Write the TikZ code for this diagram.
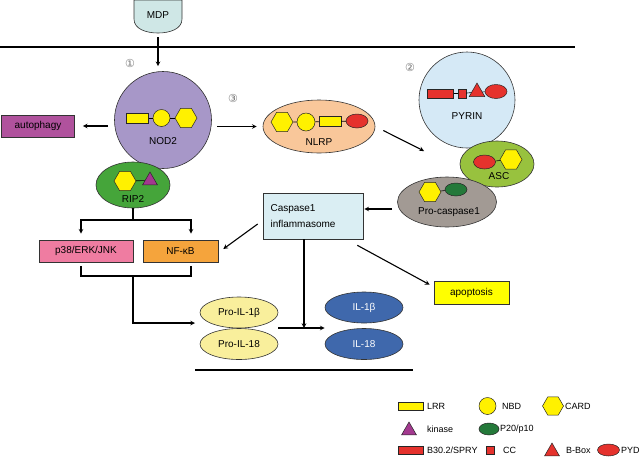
\documentclass[tikz,border=0pt]{standalone}
\usepackage{fontspec}
\setmainfont{Liberation Sans}
\newfontfamily\circfont{DejaVu Sans}
\usetikzlibrary{shapes.geometric}

\definecolor{mdpc}{HTML}{CFE7E6}
\definecolor{nodc}{HTML}{A797C8}
\definecolor{autoc}{HTML}{B0529D}
\definecolor{nlrc}{HTML}{F9C79A}
\definecolor{pyrc}{HTML}{D5E9F6}
\definecolor{ascc}{HTML}{98C23E}
\definecolor{pcasc}{HTML}{A29A94}
\definecolor{caspc}{HTML}{DAEEF3}
\definecolor{ripc}{HTML}{45A53A}
\definecolor{p38c}{HTML}{EF7CA1}
\definecolor{nfkc}{HTML}{F5A43C}
\definecolor{proilc}{HTML}{F9EF9C}
\definecolor{ilc}{HTML}{3F68AC}
\definecolor{apoc}{HTML}{FFFF00}
\definecolor{dyel}{HTML}{FFF100}
\definecolor{dred}{HTML}{E5322D}
\definecolor{kinc}{HTML}{A3398F}
\definecolor{p20c}{HTML}{24793A}

\begin{document}
\begin{tikzpicture}[x=1pt,y=-1pt,font=\fontsize{10}{12}\selectfont]
  \useasboundingbox (0,0) rectangle (640,456);

  \tikzset{
    sig arc/.style={->, >=stealth, line width=1.1pt, black},
    bar/.style={line width=1.1pt, black},
    big/.style={draw=black!80, line width=0.6pt, inner sep=0},
    dom/.style={draw=black!85, line width=0.5pt, inner sep=0},
    lrr/.style={dom, rectangle, fill=dyel, minimum width=22, minimum height=10},
    nbd/.style={dom, circle, fill=dyel, minimum size=17},
    card/.style={dom, regular polygon, regular polygon sides=6, fill=dyel, minimum size=22},
    kinase/.style={dom, regular polygon, regular polygon sides=3, fill=kinc, minimum size=17},
    ptwenty/.style={dom, ellipse, fill=p20c, minimum width=22, minimum height=13},
    spry/.style={dom, rectangle, fill=dred, minimum width=26, minimum height=9},
    ccbox/.style={dom, rectangle, fill=dred, minimum width=8, minimum height=9},
    bbox/.style={dom, regular polygon, regular polygon sides=3, fill=dred, minimum size=18},
    pyd/.style={dom, ellipse, fill=dred, minimum width=22, minimum height=14},
    link/.style={black, line width=0.6pt},
    num/.style={font=\circfont\fontsize{11}{11}\selectfont, text=black!55},
    key/.style={anchor=west, font=\fontsize{9}{10}\selectfont, inner sep=0}
  }

  % membrane and ligand
  \draw[big, fill=mdpc] (134,0) -- (134,19) .. controls (134,29) and (146,33) .. (158,33)
    .. controls (170,33) and (182,29) .. (182,19) -- (182,0) -- cycle;
  \node (mdp) at (158,15) {MDP};
  \coordinate (mdpbot) at (158,37);
  \draw[line width=2.6pt] (0,47) -- (575,47);

  \node[num] (n1) at (130,63) {①};
  \node[num] (n2) at (410,67) {②};
  \node[num] (n3) at (233,98) {③};

  % NOD2
  \node[big, circle, fill=nodc, minimum size=97] (nod2) at (163,120) {};
  \node[lrr] (nodlrr) at (137.5,118) {};
  \node[nbd] (nodnbd) at (161.5,118) {};
  \node[card] (nodcard) at (186,118) {};
  \draw[link] (nodlrr) -- (nodnbd) -- (nodcard);
  \node (nodtxt) at (163,141) {NOD2};

  % RIP2
  \node[big, ellipse, fill=ripc, minimum width=74, minimum height=46] (rip2) at (133,185) {};
  \node[card] (ripcard) at (125,181) {};
  \node[kinase] (ripkin) at (150,180.5) {};
  \draw[link] (ripcard) -- (ripkin);
  \node (riptxt) at (133,199) {RIP2};

  \node[big, fill=autoc, minimum width=73, minimum height=22] (autoph) at (38,126) {autophagy};

  % NLRP
  \node[big, ellipse, fill=nlrc, minimum width=112, minimum height=53] (nlrp) at (319,126.5) {};
  \node[card] (nlrcard) at (282,122) {};
  \node[nbd, minimum size=18] (nlrnbd) at (306,122) {};
  \node[lrr] (nlrlrr) at (330,121.5) {};
  \node[pyd] (nlrpyd) at (357,121) {};
  \draw[link] (nlrcard) -- (nlrnbd) -- (nlrlrr) -- (nlrpyd);
  \node (nlrtxt) at (319,142) {NLRP};

  % PYRIN, ASC, Pro-caspase1
  \node[big, circle, fill=pyrc, minimum size=96] (pyrin) at (467,100) {};
  \node[spry] (pyrspry) at (440.5,93.5) {};
  \node[ccbox] (pyrcc) at (462,93.5) {};
  \node[bbox] (pyrbb) at (477,92) {};
  \node[pyd] (pyrpyd) at (496,91.5) {};
  \draw[link] (pyrspry) -- (pyrcc) -- (pyrbb) -- (pyrpyd);
  \node (pyrtxt) at (467,116) {PYRIN};

  \node[big, ellipse, fill=ascc, minimum width=74, minimum height=46] (asc) at (497,164) {};
  \node[pyd] (ascpyd) at (484.5,162) {};
  \node[card] (asccard) at (511,159.5) {};
  \draw[link] (ascpyd) -- (asccard);
  \node (asctxt) at (499,176) {ASC};

  \node[big, ellipse, fill=pcasc, minimum width=99, minimum height=50] (procasp) at (447,202) {};
  \node[card] (pccard) at (430,192) {};
  \node[ptwenty] (pcp20) at (456,189.5) {};
  \draw[link] (pccard) -- (pcp20);
  \node (pctxt) at (449,212) {Pro-caspase1};

  \node[big, fill=caspc, minimum width=100, minimum height=46] (casp) at (313,216) {};
  \node[anchor=west, align=left, font=\fontsize{10}{16}\selectfont] (casptxt) at (267,216) {Caspase1\\inflammasome};

  % outputs
  \node[big, fill=p38c, minimum width=94, minimum height=22] (p38) at (86,251) {p38/ERK/JNK};
  \node[big, fill=nfkc, minimum width=75, minimum height=22] (nfkb) at (180.5,251) {NF-κB};
  \node[big, ellipse, fill=proilc, minimum width=78, minimum height=31] (proilb) at (239,312.5) {Pro-IL-1β};
  \node[big, ellipse, fill=proilc, minimum width=78, minimum height=31] (proil18) at (239,344) {Pro-IL-18};
  \node[big, ellipse, fill=ilc, text=white, minimum width=78, minimum height=31] (ilb) at (364,307.5) {IL-1β};
  \node[big, ellipse, fill=ilc, text=white, minimum width=78, minimum height=31] (il18) at (364,344) {IL-18};
  \node[big, fill=apoc, minimum width=75, minimum height=23] (apop) at (471.5,292.5) {apoptosis};

  \coordinate (cplx) at (424,151);
  \coordinate (lsplit) at (81,220);
  \coordinate (rsplit) at (191,220);
  \coordinate (ljoin) at (81,276);
  \coordinate (rjoin) at (191,276);
  \coordinate (mjoin) at (133,276);
  \coordinate (proin) at (195,323);
  \coordinate (cut) at (304,328);

  \draw[sig arc, shorten >=5pt] (mdpbot) -- (mdpbot |- nod2.north);
  \draw[sig arc, shorten <=6pt, shorten >=8pt] (nod2.west |- autoph) -- (autoph.east);
  \draw[sig arc, shorten <=5.5pt, shorten >=6pt] (nod2.east |- nlrp) -- (nlrp.west);
  \draw[sig arc] ([shift={(8,4)}]nlrp.east) -- (cplx);
  \draw[sig arc] ([shift={(-5,7)}]procasp.west) -- ([shift={(1,-7)}]casp.east);
  \draw[sig arc] ([shift={(-5,8)}]casp.west) -- ([shift={(5,-2)}]nfkb.east);
  \draw[sig arc] ([shift={(-6,6)}]casp.south east) -- ([shift={(-4,4)}]apop.north west);

  \draw[bar] (rip2.south) -- (rip2.south |- lsplit);
  \draw[sig arc, <->, shorten <=6pt, shorten >=6pt] (lsplit |- p38.north) -- (lsplit) -- (rsplit) -- (rsplit |- nfkb.north);
  \draw[bar, shorten <=4pt, shorten >=4pt] (ljoin |- p38.south) -- (ljoin) -- (rjoin) -- (rjoin |- nfkb.south);
  \draw[sig arc] (mjoin) |- (proin);

  \draw[sig arc] (cut |- casp.south) -- (cut);
  \draw[sig arc] (proilb.east |- cut) -- (ilb.west |- cut);
  \draw[line width=2.2pt] (195,370) -- (413,370);

  % legend
  \node[lrr, minimum width=25, minimum height=8] (klrr) at (410.5,406) {};
  \node[key] (klrrt) at (427,406) {LRR};
  \node[nbd] (knbd) at (487.5,406) {};
  \node[key] (knbdt) at (502,406) {NBD};
  \node[card, minimum size=21] (kcard) at (553,406) {};
  \node[key] (kcardt) at (565,406) {CARD};
  \node[kinase] (kkin) at (409,430.5) {};
  \node[key] (kkint) at (427,429) {kinase};
  \node[ptwenty, minimum width=20, minimum height=12] (kp20) at (489,429) {};
  \node[key] (kp20t) at (500,429) {P20/p10};
  \node[spry, minimum width=25, minimum height=8] (kspry) at (410.5,450) {};
  \node[key] (kspryt) at (427,450) {B30.2/SPRY};
  \node[ccbox, minimum height=8] (kcc) at (490,450) {};
  \node[key] (kcct) at (503,450) {CC};
  \node[bbox, minimum size=17] (kbb) at (552,451.5) {};
  \node[key] (kbbt) at (566,450) {B-Box};
  \node[pyd, minimum height=12] (kpyd) at (608.5,450) {};
  \node[key] (kpydt) at (621,450) {PYD};
\end{tikzpicture}
\end{document}
